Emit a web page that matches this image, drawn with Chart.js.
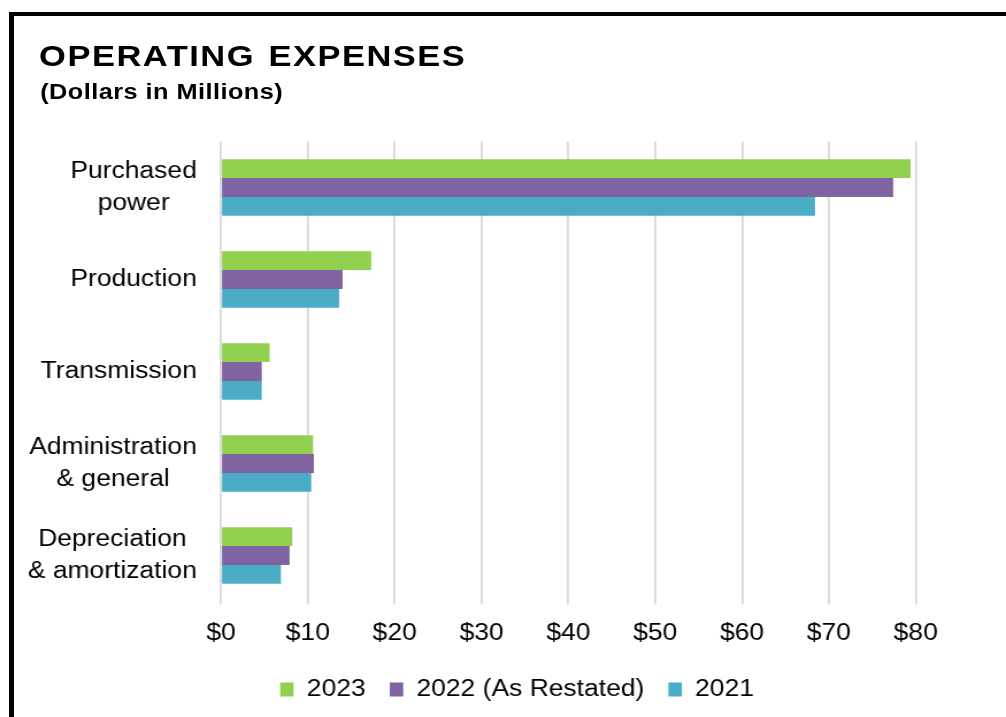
<!DOCTYPE html>
<html>
<head>
<meta charset="utf-8">
<script src="https://cdn.jsdelivr.net/npm/chart.js@4/dist/chart.umd.min.js"></script>
<style>
  html, body { margin: 0; padding: 0; background: #fff; overflow: hidden; }
  body { width: 1006px; height: 717px; position: relative; font-family: "Liberation Sans", Arial, sans-serif; }
  #frame { position: absolute; left: 9px; top: 12px; width: 1200px; height: 900px;
           border-left: 5px solid #000; border-top: 4px solid #000; }
  /* the source picture is stretched sideways, so the whole chart is drawn narrow and widened */
  #wrap { position: absolute; left: 0; top: 0; width: 875px; height: 717px;
          transform: scaleX(1.1497); transform-origin: 0 0; }
  #title { position: absolute; left: 34px; top: 41px; font-size: 30px; line-height: 30px;
           font-weight: bold; letter-spacing: 1.3px; word-spacing: 2px; color: #000; white-space: nowrap; }
  #subtitle { position: absolute; left: 35px; top: 81px; font-size: 22px; line-height: 22px;
              font-weight: bold; letter-spacing: 0.4px; color: #000; white-space: nowrap; }
  canvas { position: absolute; left: 0; top: 0; }
</style>
</head>
<body>
<div id="frame"></div>
<div id="wrap">
  <div id="title">OPERATING EXPENSES</div>
  <div id="subtitle">(Dollars in Millions)</div>
  <canvas id="ch_opex" width="875" height="717"></canvas>
</div>
<script>
// --- data ---
const categories = [
  ['Purchased', 'power'],
  'Production',
  'Transmission',
  ['Administration', '& general'],
  ['Depreciation', '& amortization']
];
const seriesNames = ['2023', '2022 (As Restated)', '2021'];
const values2023 = [79.4, 17.3, 5.6, 10.6, 8.2];
const values2022 = [77.4, 14.0, 4.7, 10.7, 7.9];
const values2021 = [68.4, 13.6, 4.7, 10.4, 6.9];
const xTickValues = [0, 10, 20, 30, 40, 50, 60, 70, 80];

const COLORS = ['#92D050', '#8064A2', '#4BACC6'];
const FONT = '"Liberation Sans", Arial, sans-serif';

// category labels: block right-aligned, lines centred within the block
const yLabelPlugin = {
  id: 'yLabels',
  afterDraw(chart) {
    const { ctx, scales: { y } } = chart;
    const right = y.right - 21;
    const lineH = 31.5;
    ctx.save();
    ctx.font = '23px ' + FONT;
    ctx.fillStyle = '#000';
    ctx.textAlign = 'center';
    ctx.textBaseline = 'middle';
    categories.forEach((lab, i) => {
      const lines = Array.isArray(lab) ? lab : [lab];
      const w = Math.max(...lines.map(t => ctx.measureText(t).width));
      const cy = y.getPixelForValue(i);
      lines.forEach((t, j) => {
        ctx.fillText(t, right - w / 2, cy + (j - (lines.length - 1) / 2) * lineH);
      });
    });
    ctx.restore();
  }
};

const PAD_BOTTOM = 6;
const PLOT_BOTTOM = 601.5;

new Chart(document.getElementById('ch_opex').getContext('2d'), {
  type: 'bar',
  data: {
    labels: categories,
    datasets: [values2023, values2022, values2021].map((vals, i) => ({
      label: seriesNames[i],
      data: vals,
      backgroundColor: COLORS[i],
      borderWidth: 0,
      barPercentage: 1,
      categoryPercentage: 0.614
    }))
  },
  options: {
    indexAxis: 'y',
    responsive: false,
    animation: false,
    devicePixelRatio: 1,
    layout: { padding: { left: 102.9, right: 78.5, top: 141.5, bottom: PAD_BOTTOM } },
    scales: {
      y: {
        type: 'category',
        grid: { display: false },
        border: { display: false },
        ticks: { display: false },
        afterFit(scale) { scale.width = 89.3; }
      },
      x: {
        type: 'linear',
        min: 0,
        max: 80,
        afterBuildTicks(scale) { scale.ticks = xTickValues.map(v => ({ value: v })); },
        ticks: {
          callback: v => '$' + v,
          color: '#000',
          font: { family: FONT, size: 23 },
          padding: 15,
          maxRotation: 0
        },
        grid: { color: '#D9D9D9', lineWidth: 1.8, drawTicks: true, tickLength: 3, tickColor: '#D9D9D9' },
        border: { display: false },
        afterFit(scale) {
          const lg = scale.chart.legend ? scale.chart.legend.height : 0;
          scale.height = 717 - PAD_BOTTOM - lg - PLOT_BOTTOM;
        }
      }
    },
    plugins: {
      legend: {
        position: 'bottom',
        labels: {
          color: '#000',
          font: { family: FONT, size: 23 },
          boxWidth: 11.7,
          boxHeight: 14,
          padding: 21
        }
      },
      tooltip: { enabled: false }
    }
  },
  plugins: [yLabelPlugin]
});
</script>
</body>
</html>
